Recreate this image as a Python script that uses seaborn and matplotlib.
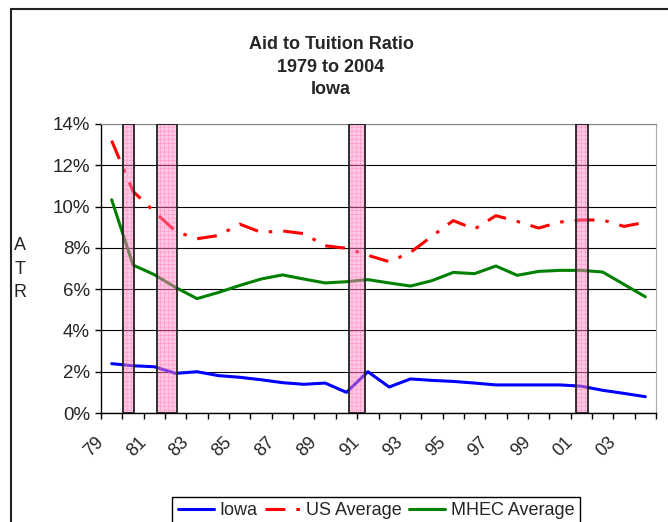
import numpy as np
import pandas as pd
import matplotlib
matplotlib.use('Agg')
import matplotlib.pyplot as plt
import matplotlib.transforms as mtransforms
from matplotlib.patches import Rectangle
from matplotlib.ticker import PercentFormatter, NullFormatter
import seaborn as sns

# Aid to tuition ratio, percent, 1979-2004
years = list(range(1979, 2005))
iowa = [2.39, 2.29, 2.24, 1.92, 2.00, 1.81, 1.73, 1.61, 1.47, 1.39, 1.45, 1.00, 2.00,
        1.26, 1.65, 1.58, 1.53, 1.45, 1.36, 1.36, 1.36, 1.36, 1.30, 1.10, 0.95, 0.79]
us_avg = [13.19, 10.74, 9.75, 8.80, 8.44, 8.60, 9.15, 8.75, 8.82, 8.69, 8.10, 7.98, 7.64,
          7.33, 7.78, 8.56, 9.32, 8.91, 9.56, 9.28, 8.96, 9.25, 9.35, 9.35, 9.04, 9.24]
mhec_avg = [10.33, 7.17, 6.70, 6.08, 5.54, 5.84, 6.18, 6.49, 6.69, 6.49, 6.30, 6.36, 6.46,
            6.30, 6.15, 6.41, 6.81, 6.75, 7.12, 6.67, 6.86, 6.91, 6.91, 6.83, 6.23, 5.63]
tick_labels = ['79', '81', '83', '85', '87', '89', '91', '93', '95', '97', '99', '01', '03']

# recession periods (fractional years)
rec_start = [1980.05, 1981.60, 1990.60, 2001.23]
rec_end = [1980.53, 1982.57, 1991.35, 2001.82]

df = pd.DataFrame({'pos': np.arange(len(years)), 'year': years,
                   'Iowa': iowa, 'US Average': us_avg, 'MHEC Average': mhec_avg})

sns.set_style('white')
plt.rcParams['font.family'] = ['Liberation Sans', 'DejaVu Sans']
plt.rcParams['hatch.linewidth'] = 0.4

fig = plt.figure(figsize=(6.68, 5.22), dpi=100)
ax = fig.add_axes([101 / 668, 1 - 413 / 522, 555 / 668, 289 / 522])

sns.lineplot(data=df, x='pos', y='Iowa', color='#0000ff', lw=2.2, label='Iowa', ax=ax, zorder=3)
sns.lineplot(data=df, x='pos', y='US Average', color='#ff0000', lw=2.2, label='US Average',
             linestyle=(0, (6.5, 3.6, 1.15, 3.6)), ax=ax, zorder=3)
sns.lineplot(data=df, x='pos', y='MHEC Average', color='#008000', lw=2.2, label='MHEC Average',
             ax=ax, zorder=3)
handles, labels = ax.get_legend_handles_labels()
ax.get_legend().remove()

# recession bars, semi transparent over the lines
centers = [(s + e) / 2 - years[0] - 0.5 for s, e in zip(rec_start, rec_end)]
widths = [e - s for s, e in zip(rec_start, rec_end)]
ax.bar(centers, 14, width=widths, color='#ff88c4', alpha=0.45, hatch='++++',
       edgecolor='#ff55aa', linewidth=0, zorder=4)
ax.bar(centers, 14, width=widths, fill=False, edgecolor='#222222', linewidth=1.3, zorder=5)

ax.set_xlim(-0.5, len(years) - 0.5)
ax.set_ylim(0, 14)
ax.yaxis.set_major_formatter(PercentFormatter(decimals=0))
ax.set_yticks(range(0, 15, 2))
ax.yaxis.grid(True, color='black', lw=0.8)
ax.xaxis.grid(False)
ax.set_axisbelow(True)

ax.set_xticks(np.arange(-0.5, len(years), 1))
ax.xaxis.set_major_formatter(NullFormatter())
ax.set_xticks(range(0, len(years), 2), minor=True)
ax.set_xticklabels(tick_labels, minor=True, rotation=45, ha='right', va='center',
                   rotation_mode='anchor', fontsize=13)
ax.tick_params(axis='x', which='major', bottom=True, length=4, width=1, color='black', direction='out')
ax.tick_params(axis='x', which='minor', bottom=True, length=0, pad=19)
ax.tick_params(axis='y', left=True, length=4, width=1, color='black', pad=4, labelsize=13.5)
shift = mtransforms.ScaledTranslation(-10.5 / 100, 0, fig.dpi_scale_trans)
for lab in ax.xaxis.get_minorticklabels():
    lab.set_transform(lab.get_transform() + shift)

ax.set_xlabel('')
ax.set_ylabel('A\nT\nR', rotation=0, fontsize=13, linespacing=1.52, va='center', ha='center')
ax.yaxis.set_label_coords((20 - 101) / 555, (413 - 269) / 289)

for side in ['left', 'bottom']:
    ax.spines[side].set_color('black')
    ax.spines[side].set_linewidth(1)
ax.spines['top'].set_color('#888888')
ax.spines['right'].set_color('#aaaaaa')

fig.text(331 / 668, 1 - 67 / 522, 'Aid to Tuition Ratio\n1979 to 2004\nIowa', ha='center',
         va='center', fontsize=13, fontweight='bold', linespacing=1.45)

leg = fig.legend(handles, labels, loc='upper center', bbox_to_anchor=(376 / 668, 1 - 497 / 522),
                 ncol=3, frameon=True, fancybox=False, edgecolor='black', framealpha=1,
                 fontsize=13, handlelength=2.0, handletextpad=0.3, columnspacing=0.4,
                 borderpad=0.3, borderaxespad=0)
leg.get_frame().set_linewidth(1)

# outer chart border
fig.add_artist(Rectangle((11 / 668, -0.05), 1.0, 1 - 9 / 522 + 0.05, transform=fig.transFigure,
                         fill=False, edgecolor='#222222', lw=1.5))

fig.savefig('out.png', dpi=100)
